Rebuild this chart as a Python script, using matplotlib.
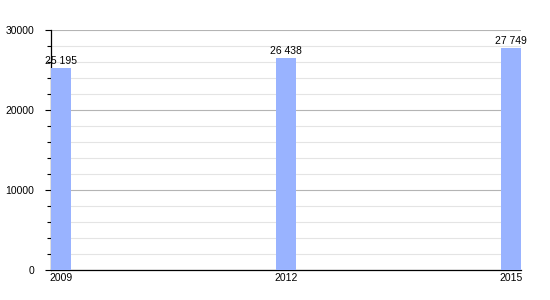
import matplotlib.pyplot as plt
from matplotlib.ticker import MultipleLocator

plt.rcParams['font.family'] = ['Liberation Sans', 'DejaVu Sans']

# data
years = [2009, 2012, 2015]
values = [25195, 26438, 27749]
labels = ["25 195", "26 438", "27 749"]

bar_color = '#99b3ff'
w = 0.27

fig = plt.figure(figsize=(5.5, 3), dpi=100)
ax = fig.add_axes([51/550, 30/300, 470/550, 240/300])

ax.bar(years, values, width=w, color=bar_color, zorder=3)
for x, v, t in zip(years, values, labels):
    ax.text(x, v + 300, t, ha='center', va='bottom', fontsize=7.5, zorder=4)

ax.set_xlim(years[0] - w/2, years[-1] + w/2)
ax.set_ylim(0, 30000)
ax.set_xticks(years)
ax.set_xticklabels([str(y) for y in years])
ax.yaxis.set_major_locator(MultipleLocator(10000))
ax.yaxis.set_minor_locator(MultipleLocator(2000))

ax.grid(which='major', axis='y', color='#b4b4b4', linewidth=0.8, zorder=1)
ax.grid(which='minor', axis='y', color='#e4e4e4', linewidth=0.8, zorder=1)

for s in ['top', 'right']:
    ax.spines[s].set_visible(False)
ax.spines['left'].set_linewidth(0.9)
ax.spines['bottom'].set_linewidth(0.9)

ax.tick_params(axis='y', which='major', length=4, width=0.8, labelsize=7.5, pad=8)
ax.tick_params(axis='y', which='minor', length=3, width=0.8)
ax.tick_params(axis='x', length=0, labelsize=7.5, pad=2)

fig.savefig('out.png', dpi=100)
